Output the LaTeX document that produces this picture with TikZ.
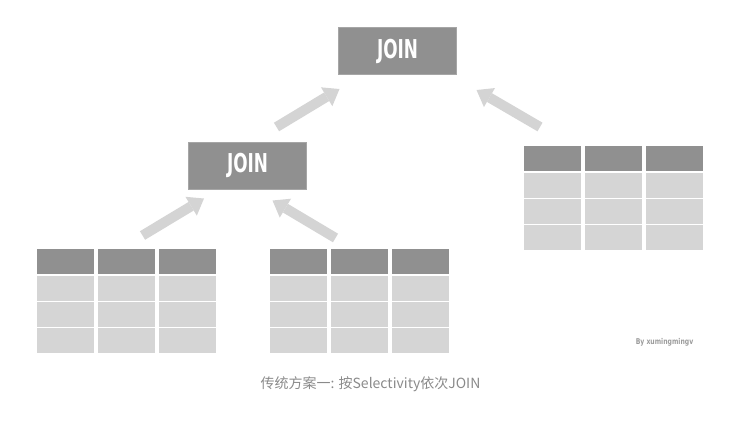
\documentclass[tikz,border=0pt]{standalone}
\usepackage{fontspec}
\usepackage{tikz}
\usetikzlibrary{arrows.meta}
\newfontfamily\cjk{Noto Sans CJK SC}
\newfontfamily\joinfont{DejaVu Sans Condensed Bold}

\definecolor{headgray}{HTML}{909090}
\definecolor{cellgray}{HTML}{D5D5D5}
\definecolor{arrowgray}{HTML}{D4D4D4}
\definecolor{capgray}{HTML}{8A8A8A}

\tikzset{
  joinbox/.style={fill=headgray, draw=headgray!80!white, line width=0.8pt,
    minimum width=118pt, minimum height=47pt, inner sep=0pt,
    text=white, font=\joinfont\fontsize{26}{26}\selectfont},
  flow/.style={draw=arrowgray, line width=10pt,
    -{Triangle[width=22pt, length=15pt, line width=0pt]}},
}

\begin{document}
\begin{tikzpicture}[x=1pt, y=-1pt]
        \useasboundingbox (0,0) rectangle (751,420);

        % Join nodes
        \node[joinbox] (topjoin) at (397.5,51) {\scalebox{0.72}[1]{JOIN}};
        \node[joinbox] (midjoin) at (247.5,165.5) {\scalebox{0.72}[1]{JOIN}};

        % Tables: left, middle, right
        \foreach \tx/\ty in {37/249, 270/249, 524/146} {
          \foreach \c in {0,1,2} {
            \fill[headgray] (\tx+61*\c,\ty) rectangle ++(57,25);
            \foreach \r in {1,2,3}
              \fill[cellgray] (\tx+61*\c,\ty+26*\r+1) rectangle ++(57,24.5);
          }
        }

        % Arrow ends
        \coordinate (lefttail) at (142.5,235.5);
        \coordinate (lefthead) at (204,198.5);
        \coordinate (midtail) at (335.5,238);
        \coordinate (midhead) at (272.5,200.5);
        \coordinate (jointail) at (276.5,127);
        \coordinate (joinhead) at (339.5,89);
        \coordinate (righttail) at (540,127);
        \coordinate (righthead) at (476.5,90);

        % Arrows
        \draw[flow] (lefttail) -- (lefthead);
        \draw[flow] (midtail) -- (midhead);
        \draw[flow] (jointail) -- (joinhead);
        \draw[flow] (righttail) -- (righthead);

        % Signature
        \node[text=headgray!90!white, font=\joinfont\fontsize{8}{8}\selectfont] (sign) at (664.5,342) {\scalebox{0.85}[1]{By xumingmingv}};

        % Caption
        \node[text=capgray, font=\cjk\fontsize{14}{14}\selectfont] (caption) at (370.5,384.5) {传统方案一: 按Selectivity依次JOIN};
    \end{tikzpicture}
\end{document}
